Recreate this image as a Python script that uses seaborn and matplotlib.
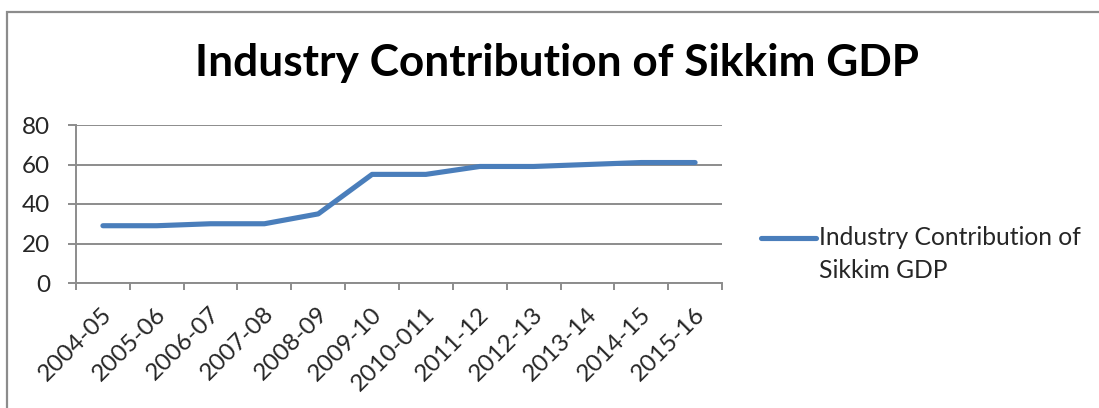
import matplotlib
matplotlib.use("Agg")
import numpy as np
import matplotlib.pyplot as plt
import matplotlib.transforms as mtransforms
import seaborn as sns
import pandas as pd
from matplotlib.patches import Rectangle
from matplotlib.legend_handler import HandlerLine2D

years = ["2004-05", "2005-06", "2006-07", "2007-08", "2008-09", "2009-10",
         "2010-011", "2011-12", "2012-13", "2013-14", "2014-15", "2015-16"]
industry_share = [29, 29, 30, 30, 35, 55, 55, 59, 59, 60, 61, 61]
series_name = "Industry Contribution of\nSikkim GDP"
y_ticks = [0, 20, 40, 60, 80]

sns.set_theme(style="white")
plt.rcParams["font.family"] = ["Lato", "DejaVu Sans"]

W, H = 1099, 408
GRAY = "#8c8c8c"
fig = plt.figure(figsize=(W / 100, H / 100), dpi=100)
fig.patch.set_facecolor("white")

# outer chart frame
fig.add_artist(Rectangle((7 / W, -0.1), 1.2, (H - 12) / H + 0.1, transform=fig.transFigure,
                         fill=False, edgecolor=GRAY, linewidth=1.6))

ax = fig.add_axes([76 / W, (H - 283) / H, 646 / W, 158 / H])
df = pd.DataFrame({"year": years, "value": industry_share})
sns.lineplot(data=df, x="year", y="value", ax=ax, color="#4A7EBB", linewidth=3.7,
             label=series_name, sort=False, solid_capstyle="round")

ax.set_xlim(-0.5, len(years) - 0.5)
ax.set_ylim(0, 80)
ax.set_yticks(y_ticks)
ax.yaxis.grid(True, color=GRAY, linewidth=1.4)
ax.set_axisbelow(True)
for side in ["top", "right"]:
    ax.spines[side].set_visible(False)
for side in ["left", "bottom"]:
    ax.spines[side].set_color(GRAY)
    ax.spines[side].set_linewidth(1.4)

ax.set_xticks(range(len(years)))
ax.set_xticklabels(years, rotation=45, ha="right", va="center", rotation_mode="anchor",
                   fontsize=17.5)
ax.set_xticks([i - 0.5 for i in range(len(years) + 1)], minor=True)
ax.tick_params(axis="x", which="major", length=0, pad=20)
ax.tick_params(axis="x", which="minor", length=5, width=1.4, color=GRAY, direction="out")
ax.tick_params(axis="y", length=5.8, width=1.4, color=GRAY, direction="out",
               labelsize=17.5, pad=13)
ax.tick_params(axis="both", bottom=True, left=True, which="both")
ax.set_xlabel("")
ax.set_ylabel("")

# nudge the slanted category labels a little to the right
shift = mtransforms.ScaledTranslation(6 / 100, 0, fig.dpi_scale_trans)
for lbl in ax.get_xticklabels():
    lbl.set_transform(lbl.get_transform() + shift)

fig.text(557 / W, (H - 63) / H, "Industry Contribution of Sikkim GDP", ha="center",
         va="center", fontsize=31.8, fontweight="bold", color="black")


class FirstLineHandler(HandlerLine2D):
    """Places the legend line beside the first line of a two-line label."""

    def create_artists(self, legend, orig_handle, xdescent, ydescent, width, height,
                       fontsize, trans):
        artists = super().create_artists(legend, orig_handle, xdescent, ydescent,
                                         width, height, fontsize, trans)
        for a in artists:
            a.set_ydata(np.asarray(a.get_ydata()) + 0.68 * fontsize)
        return artists


handles, labels = ax.get_legend_handles_labels()
ax.get_legend().remove()
leg = fig.legend(handles, labels, loc="upper left", bbox_to_anchor=(761 / W, (H - 226) / H),
                 frameon=False, fontsize=17.7, handlelength=2.25, handletextpad=0.12,
                 borderpad=0, borderaxespad=0,
                 handler_map={handles[0]: FirstLineHandler()})
for t in leg.get_texts():
    t.set_linespacing(1.5)

fig.savefig("out.png", dpi=100, facecolor="white")
